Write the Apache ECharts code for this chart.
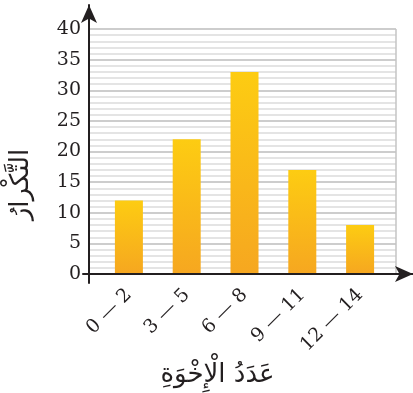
<!DOCTYPE html>
<html><head><meta charset="utf-8">
<script src="https://cdn.jsdelivr.net/npm/echarts@6/dist/echarts.min.js"></script>
<style>html,body{margin:0;padding:0;background:#fff}#c{width:413px;height:393px}</style>
</head><body><div id="c"></div>
<script>
const categories = ['0 — 2', '3 — 5', '6 — 8', '9 — 11', '12 — 14'];
const counts = [12, 22, 33, 17, 8];
const yMin = 0, yMax = 40, yStep = 5;
const xTitle = 'عَدَدُ الْإِخْوَةِ';
const yTitle = 'التَّكْرارُ';

const ink = '#231f20';
const chart = echarts.init(document.getElementById('c'));
chart.setOption({
  animation: false,
  grid: [
    {left: 89, right: 17, top: 29, bottom: 119},
    {left: 98, right: 24, top: 29, bottom: 119},
    {left: 83, right: 0, top: 5, bottom: 110}
  ],
  xAxis: [
    {gridIndex: 0, type: 'value', min: 0, max: 1, interval: 1,
     axisLine: {show: false}, axisTick: {show: false}, axisLabel: {show: false},
     splitLine: {show: true, lineStyle: {color: '#c4c4c4', width: 1.5}}},
    {gridIndex: 1, type: 'category', data: categories,
     axisLine: {show: false}, axisTick: {show: false},
     axisLabel: {rotate: 45, margin: 18, fontFamily: 'DejaVu Serif', fontSize: 19, color: ink},
     name: xTitle, nameLocation: 'middle', nameGap: 74,
     nameTextStyle: {fontFamily: 'DejaVu Sans', fontSize: 26, color: ink, padding: [0, 54, 0, 0]}},
    {gridIndex: 2, type: 'value', min: -6, max: 324, z: 10,
     axisLine: {show: true, onZero: true, symbol: ['none', 'arrow'], symbolSize: [12, 18],
       lineStyle: {color: ink, width: 2}},
     axisTick: {show: false}, axisLabel: {show: false}, splitLine: {show: false}}
  ],
  yAxis: [
    {gridIndex: 0, type: 'value', min: yMin, max: yMax, interval: yStep,
     axisLine: {show: false}, axisTick: {show: false},
     axisLabel: {margin: 8, fontFamily: 'DejaVu Serif', fontSize: 19, color: ink},
     splitLine: {lineStyle: {color: '#bdbdbd', width: 1.5}},
     minorTick: {show: false, splitNumber: 5},
     minorSplitLine: {show: true, lineStyle: {color: '#dcdcdc', width: 1.5}}},
    {gridIndex: 1, type: 'value', min: yMin, max: yMax, interval: yStep,
     axisLine: {show: false}, axisTick: {show: false}, axisLabel: {show: false}, splitLine: {show: false},
     name: yTitle, nameLocation: 'middle', nameGap: 66,
     nameTextStyle: {fontFamily: 'DejaVu Sans', fontSize: 26, color: ink, padding: [0, 66, 0, 0]}},
    {gridIndex: 2, type: 'value', min: -9, max: 269, z: 10,
     axisLine: {show: true, onZero: true, symbol: ['none', 'arrow'], symbolSize: [12, 18],
       lineStyle: {color: ink, width: 2}},
     axisTick: {show: false}, axisLabel: {show: false}, splitLine: {show: false}}
  ],
  series: [{
    type: 'bar', xAxisIndex: 1, yAxisIndex: 1, data: counts, barWidth: 28,
    itemStyle: {color: new echarts.graphic.LinearGradient(0, 0, 0, 1, [
      {offset: 0, color: '#fdcc12'}, {offset: 1, color: '#f6a720'}])}
  }]
});
</script></body></html>
